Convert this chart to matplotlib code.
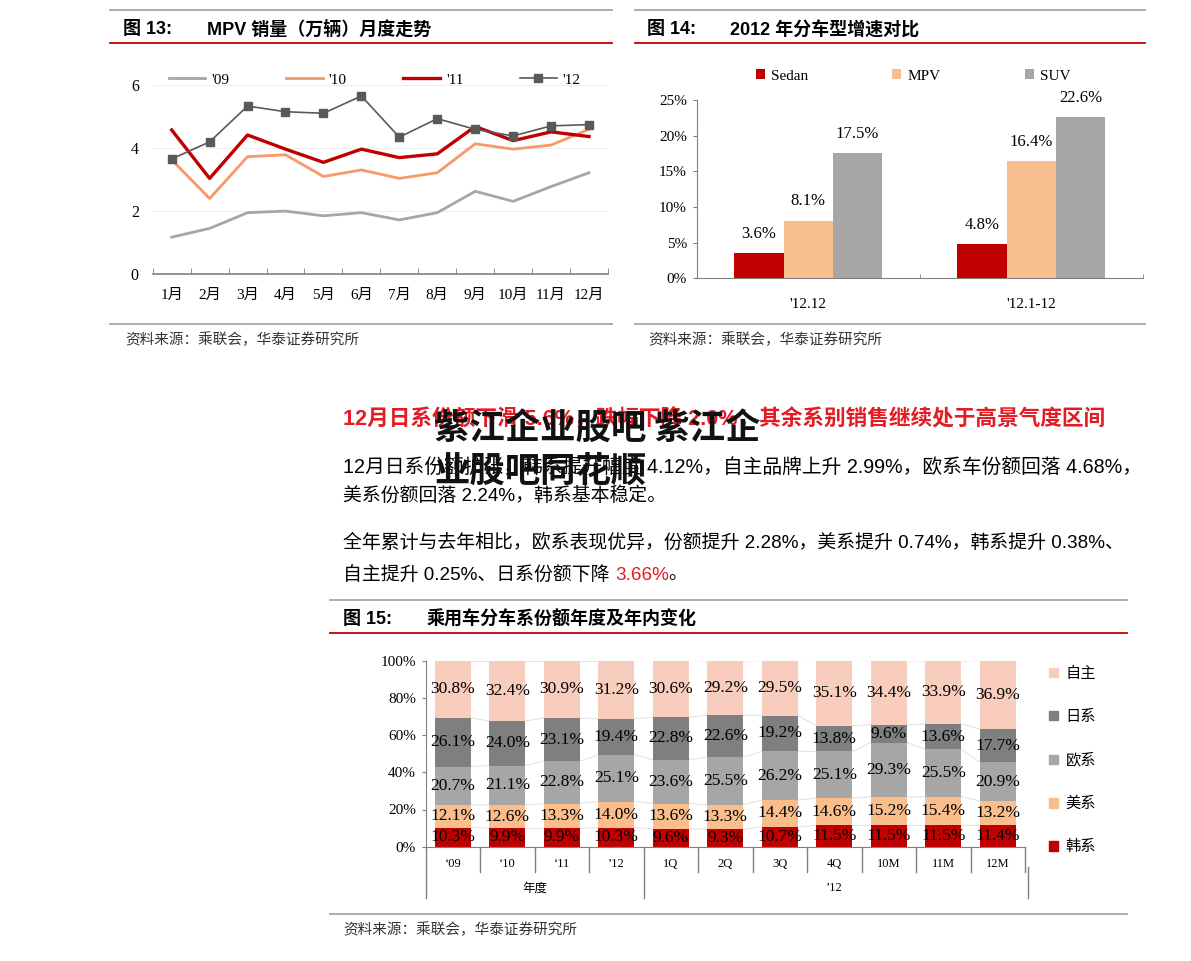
import matplotlib.pyplot as plt
from matplotlib.lines import Line2D
from matplotlib.patches import Patch

W, H = 1191, 961
SERIF = ['Liberation Serif', 'Noto Sans CJK SC']
SANS = ['Liberation Sans', 'Noto Sans CJK SC']
plt.rcParams['font.family'] = SERIF

# ---- data: fig 13, MPV monthly sales (10k units)
months = ['1月', '2月', '3月', '4月', '5月', '6月', '7月', '8月', '9月', '10月', '11月', '12月']
mpv_09 = [1.17, 1.45, 1.95, 2.00, 1.85, 1.95, 1.72, 1.95, 2.63, 2.31, 2.78, 3.22]
mpv_10 = [3.63, 2.40, 3.73, 3.79, 3.10, 3.31, 3.04, 3.22, 4.14, 3.97, 4.10, 4.60]
mpv_11 = [4.58, 3.04, 4.42, 3.97, 3.55, 3.97, 3.70, 3.82, 4.69, 4.24, 4.52, 4.37]
mpv_12 = [3.66, 4.20, 5.34, 5.16, 5.11, 5.66, 4.35, 4.94, 4.60, 4.39, 4.71, 4.75]

# ---- data: fig 14, 2012 growth by body type
periods = ["'12.12", "'12.1-12"]
sedan = [3.6, 4.8]
mpv = [8.1, 16.4]
suv = [17.5, 22.6]

# ---- data: fig 15, share by brand origin
share_cats = ['‘09', '‘10', '‘11', '’12', '1Q', '2Q', '3Q', '4Q', '10M', '11M', '12M']
korean = [10.3, 9.9, 9.9, 10.3, 9.6, 9.3, 10.7, 11.5, 11.5, 11.5, 11.4]
american = [12.1, 12.6, 13.3, 14.0, 13.6, 13.3, 14.4, 14.6, 15.2, 15.4, 13.2]
european = [20.7, 21.1, 22.8, 25.1, 23.6, 25.5, 26.2, 25.1, 29.3, 25.5, 20.9]
japanese = [26.1, 24.0, 23.1, 19.4, 22.8, 22.6, 19.2, 13.8, 9.6, 13.6, 17.7]
domestic = [30.8, 32.4, 30.9, 31.2, 30.6, 29.2, 29.5, 35.1, 34.4, 33.9, 36.9]

fig = plt.figure(figsize=(W / 100, H / 100), dpi=100)


def box(l, t, r, b):
    return [l / W, 1 - b / H, (r - l) / W, (b - t) / H]


def hline(x0, x1, y, color, lw=1.3):
    fig.add_artist(Line2D([x0 / W, x1 / W], [1 - y / H, 1 - y / H],
                          transform=fig.transFigure, color=color, lw=lw))


def txt(x, y, s, **kw):
    kw.setdefault('va', 'center')
    return fig.text(x / W, 1 - y / H, s, **kw)


GRAY_RULE = '#A6A6A6'
RED_RULE = '#C00000'
SRC = '资料来源：乘联会，华泰证券研究所'

# ================= fig 13 =================
hline(110, 612, 10, GRAY_RULE)
hline(110, 612, 42.5, RED_RULE)
hline(110, 612, 324, GRAY_RULE)
txt(123, 30, '图 13:', family=SANS, weight='bold', fontsize=13)
txt(207, 30, 'MPV 销量（万辆）月度走势', family=SANS, weight='bold', fontsize=13)
txt(125, 340, SRC, family=['Noto Sans CJK SC'], fontsize=10.5, color='#333333', style='italic')

ax1 = fig.add_axes(box(152.7, 85.3, 608, 274))
x = range(len(months))
ax1.plot(x, mpv_09, color='#A6A6A6', lw=2.0, label="'09")
ax1.plot(x, mpv_10, color='#F7976A', lw=2.0, label="'10")
ax1.plot(x, mpv_11, color='#C00000', lw=2.4, label="'11")
ax1.plot(x, mpv_12, color='#595959', lw=1.2, marker='s', markersize=6, label="'12")
ax1.set_xlim(-0.5, 11.5)
ax1.set_ylim(0, 6)
ax1.set_yticks([0, 2, 4, 6])
ax1.set_xticks(list(x))
ax1.set_xticklabels(months)
ax1.set_xticks([i - 0.5 for i in range(13)], minor=True)
ax1.tick_params(axis='x', which='major', length=0, pad=11, labelsize=11)
ax1.tick_params(axis='x', which='minor', direction='in', length=4, color='#808080')
ax1.tick_params(axis='y', length=0, pad=10, labelsize=11.5)
ax1.grid(axis='y', color='#EEEEEE', lw=0.8)
ax1.set_axisbelow(True)
for s in ['top', 'right', 'left']:
    ax1.spines[s].set_visible(False)
ax1.spines['bottom'].set_color('#808080')
ax1.spines['bottom'].set_linewidth(1.2)
ax1.legend(ncol=4, loc='center left', bbox_to_anchor=(161 / W, 1 - 80 / H),
           bbox_transform=fig.transFigure, frameon=False, fontsize=11,
           borderpad=0, handlelength=2.4, handletextpad=0.4, columnspacing=3.7)

# ================= fig 14 =================
hline(635, 1145, 10, GRAY_RULE)
hline(635, 1145, 42.5, RED_RULE)
hline(635, 1145, 324, GRAY_RULE)
txt(647, 30, '图 14:', family=SANS, weight='bold', fontsize=13)
txt(730, 30, '2012 年分车型增速对比', family=SANS, weight='bold', fontsize=13)
txt(648, 340, SRC, family=['Noto Sans CJK SC'], fontsize=10.5, color='#333333', style='italic')

ax2 = fig.add_axes(box(696.7, 100, 1143, 278.3))
bw = 0.221
px = range(len(periods))
b1 = ax2.bar([p - bw for p in px], sedan, bw, color='#C00000', label='Sedan')
b2 = ax2.bar(list(px), mpv, bw, color='#F8BF8E', label='MPV')
b3 = ax2.bar([p + bw for p in px], suv, bw, color='#A6A6A6', label='SUV')
for bars, vals in [(b1, sedan), (b2, mpv), (b3, suv)]:
    ax2.bar_label(bars, labels=[f'{v:.1f}%' for v in vals], padding=8, fontsize=12)
ax2.set_xlim(-0.5, 1.5)
ax2.set_ylim(0, 25)
ax2.set_yticks(range(0, 26, 5))
ax2.set_yticklabels([f'{v}%' for v in range(0, 26, 5)])
ax2.set_xticks(list(px))
ax2.set_xticklabels(periods)
ax2.set_xticks([-0.5, 0.5, 1.5], minor=True)
ax2.tick_params(axis='x', which='major', length=0, pad=14, labelsize=11)
ax2.tick_params(axis='x', which='minor', direction='in', length=3, color='#808080')
ax2.tick_params(axis='y', direction='out', length=3, color='#808080', pad=4, labelsize=11)
for s in ['top', 'right']:
    ax2.spines[s].set_visible(False)
for s in ['left', 'bottom']:
    ax2.spines[s].set_color('#808080')
ax2.legend(ncol=3, loc='center left', bbox_to_anchor=(748 / W, 1 - 76 / H),
           bbox_transform=fig.transFigure, frameon=False, fontsize=11,
           borderpad=0, handlelength=0.6, handleheight=0.6, handletextpad=0.4,
           columnspacing=5.5)

# ================= text block =================
bg = fig.add_axes([0, 0, 1, 1])
bg.axis('off')
bg.set_xlim(0, W)
bg.set_ylim(H, 0)
bg.text(343, 420, '12月日系份额下滑 5.6%，跌幅下降 2.0%，其余系别销售继续处于高景气度区间',
        family=SANS, weight='bold', fontsize=15.6, color='#E31B23', va='center')
bg.text(343, 467, '12月日系份额扩张，韩系提升幅度 4.12%，自主品牌上升 2.99%，欧系车份额回落 4.68%，',
        family=SANS, fontsize=14.2, va='center')
bg.text(343, 496, '美系份额回落 2.24%，韩系基本稳定。', family=SANS, fontsize=13.6, va='center')
bg.text(343, 543, '全年累计与去年相比，欧系表现优异，份额提升 2.28%，美系提升 0.74%，韩系提升 0.38%、',
        family=SANS, fontsize=13.6, va='center')
t1 = bg.text(343, 575, '自主提升 0.25%、日系份额下降 ', family=SANS, fontsize=13.6, va='center')
t2 = bg.annotate('3.66%', xy=(1, 0.5), xycoords=t1, va='center', ha='left',
                 family=SANS, fontsize=13.6, color='#E31B23')
bg.annotate('。', xy=(1, 0.5), xycoords=t2, va='center', ha='left', family=SANS, fontsize=13.6)
bg.text(434, 428, '紫江企业股吧 紫江企', family=['Noto Sans CJK SC'], weight='heavy',
        fontsize=25.5, va='center', color='#111111', zorder=5)
bg.text(434, 471, '业股吧同花顺', family=['Noto Sans CJK SC'], weight='heavy',
        fontsize=25.5, va='center', color='#111111', zorder=5)

# ================= fig 15 =================
hline(330, 1127, 600, GRAY_RULE)
hline(330, 1127, 632.5, RED_RULE)
hline(330, 1127, 914, GRAY_RULE)
txt(343, 620, '图 15:', family=SANS, weight='bold', fontsize=13)
txt(427, 620, '乘用车分车系份额年度及年内变化', family=SANS, weight='bold', fontsize=13)
txt(343, 930, SRC, family=['Noto Sans CJK SC'], fontsize=10.5, color='#333333', style='italic')

ax3 = fig.add_axes(box(425.7, 660.7, 1025, 846.7))
sx = list(range(len(share_cats)))
series = [('韩系', korean, '#C00000'), ('美系', american, '#F9BE8C'),
          ('欧系', european, '#A6A6A6'), ('日系', japanese, '#7F7F7F'),
          ('自主', domestic, '#F9CDBD')]
bw3 = 0.66
bottom = [0.0] * len(sx)
handles = []
for name, vals, col in series:
    bars = ax3.bar(sx, vals, bw3, bottom=bottom, color=col, label=name)
    ax3.bar_label(bars, labels=[f'{v:.1f}%' for v in vals], label_type='center', fontsize=12.5)
    bottom = [b + v for b, v in zip(bottom, vals)]
    for i in range(len(sx) - 1):
        ax3.plot([i + bw3 / 2, i + 1 - bw3 / 2], [bottom[i], bottom[i + 1]],
                 color='#E3E3E3', lw=0.8, zorder=0)
    handles.append(Patch(color=col, label=name))
ax3.set_xlim(-0.5, len(sx) - 0.5)
ax3.set_ylim(0, 100)
ax3.set_yticks(range(0, 101, 20))
ax3.set_yticklabels([f'{v}%' for v in range(0, 101, 20)])
ax3.set_xticks(sx)
ax3.set_xticklabels(share_cats)
ax3.tick_params(axis='x', length=0, pad=8, labelsize=9)
ax3.tick_params(axis='y', direction='out', length=3, color='#808080', pad=4, labelsize=11)
for s in ['top', 'right']:
    ax3.spines[s].set_visible(False)
for s in ['left', 'bottom']:
    ax3.spines[s].set_color('#808080')
xt = ax3.get_xaxis_transform()
for i in range(len(sx) + 1):
    xb = i - 0.5
    low = -0.274 if i in (0, 4) else -0.134
    ax3.plot([xb, xb], [0, low], color='#808080', lw=1.0, transform=xt, clip_on=False)
ax3.plot([10.55, 10.55], [-0.11, -0.274], color='#808080', lw=1.0, transform=xt, clip_on=False)
ax3.text(1.5, -0.227, '年度', transform=xt, ha='center', va='center', fontsize=9)
ax3.text(7, -0.22, '’12', transform=xt, ha='center', va='center', fontsize=9)
ax3.legend(handles=handles[::-1], loc='upper left', bbox_to_anchor=(1041 / W, 1 - 659 / H),
           bbox_transform=fig.transFigure, frameon=False, fontsize=11, borderpad=0,
           handlelength=0.6, handleheight=0.6, handletextpad=0.5, labelspacing=1.9)

fig.savefig('out.png', dpi=100)
